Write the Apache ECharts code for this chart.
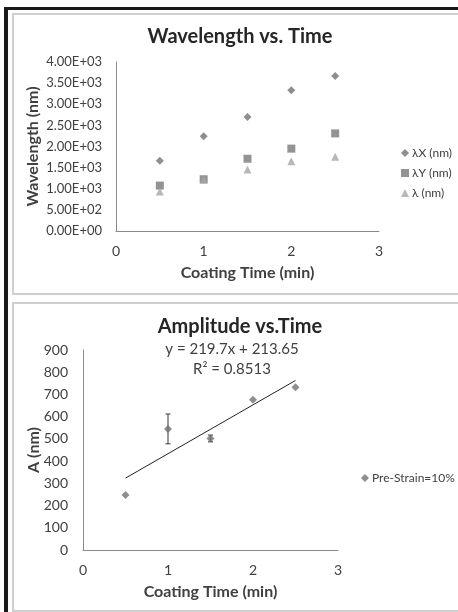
<!DOCTYPE html>
<html>
<head>
<meta charset="utf-8">
<script src="https://cdn.jsdelivr.net/npm/echarts@6/dist/echarts.min.js"></script>
<style>
  html, body { margin: 0; padding: 0; background: #fff; }
  #wrap { position: relative; width: 458px; height: 612px; overflow: hidden; }
  .bar { position: absolute; background: #1a1a1a; }
  .panel { position: absolute; border: 2px solid #cfcfcf; background: #fff; }
  #chart { position: absolute; left: 0; top: 0; width: 458px; height: 612px; }
</style>
</head>
<body>
<div id="wrap">
  <div class="bar" style="left:4px;top:7px;width:460px;height:3px;"></div>
  <div class="bar" style="left:4px;top:7px;width:4px;height:610px;"></div>
  <div class="panel" style="left:12px;top:13px;width:470px;height:278px;"></div>
  <div class="panel" style="left:12px;top:302px;width:470px;height:306px;"></div>
  <div id="chart"></div>
</div>
<script>
// --- top chart: Wavelength vs. Time ---
var timeMin = [0.5, 1, 1.5, 2, 2.5];
var lambdaX = [1660, 2240, 2700, 3330, 3670];
var lambdaY = [1075, 1225, 1710, 1950, 2310];
var lambdaA = [935, 1215, 1455, 1650, 1760];

// --- bottom chart: Amplitude vs.Time ---
var amplitude = [248, 545, 502, 676, 732];
var ampErr = [0, 67, 15, 0, 0];
var trendX = [0.5, 2.5];
var trendY = [323.5, 762.9];
var trendEq = 'y = 219.7x + 213.65';
var trendR2 = 'R² = 0.8513';

var FONT = 'Lato, "Open Sans", sans-serif';

function sci(v) {
    if (v === 0) return '0.00E+00';
    var e = Math.floor(Math.log10(v) + 1e-9);
    var m = (v / Math.pow(10, e)).toFixed(2);
    return m + 'E+' + (e < 10 ? '0' : '') + e;
}

function zip(xs, ys) {
    return xs.map(function(x, i) { return [x, ys[i]]; });
}

var axisLine = { show: true, lineStyle: { color: '#8a8a8a', width: 1 } };
var tickLabel = { color: '#404040', fontSize: 14, fontFamily: FONT };
var nameStyle = { color: '#404040', fontSize: 16, fontWeight: 'bold', fontFamily: FONT };
var legendText = { color: '#404040', fontSize: 12, fontFamily: FONT, padding: [0, 0, 0, -2] };

var chart = echarts.init(document.getElementById('chart'));
chart.setOption({
    animation: false,
    textStyle: { fontFamily: FONT },
    title: [
        { text: 'Wavelength vs. Time', left: 235, top: 22, textAlign: 'center',
          textStyle: { color: '#262626', fontSize: 20, fontWeight: 'bold', fontFamily: FONT } },
        { text: 'Amplitude vs.Time', left: 235, top: 312, textAlign: 'center',
          textStyle: { color: '#262626', fontSize: 20, fontWeight: 'bold', fontFamily: FONT } }
    ],
    graphic: [
        { type: 'text', style: { text: trendEq, x: 232, y: 349, textAlign: 'center', textVerticalAlign: 'middle', fill: '#404040', font: '15px ' + FONT } },
        { type: 'text', style: { text: trendR2, x: 232, y: 369, textAlign: 'center', textVerticalAlign: 'middle', fill: '#404040', font: '15px ' + FONT } }
    ],
    legend: [
        { orient: 'vertical', left: 396, top: 142, itemWidth: 8, itemHeight: 8, itemGap: 8,
          textStyle: legendText,
          data: [
              { name: 'λX (nm)', icon: 'diamond' },
              { name: 'λY (nm)', icon: 'rect' },
              { name: 'λ (nm)', icon: 'triangle' }
          ] },
        { orient: 'vertical', left: 356, top: 467, itemWidth: 8, itemHeight: 8,
          textStyle: legendText,
          data: [{ name: 'Pre-Strain=10%', icon: 'diamond' }] }
    ],
    grid: [
        { left: 116, top: 62, width: 263, height: 169 },
        { left: 83, top: 350, width: 255, height: 200 }
    ],
    xAxis: [
        { gridIndex: 0, type: 'value', min: 0, max: 3, interval: 1,
          axisLine: axisLine, axisTick: { show: false }, splitLine: { show: false },
          axisLabel: Object.assign({ margin: 13 }, tickLabel),
          name: 'Coating Time (min)', nameLocation: 'middle', nameGap: 34, nameTextStyle: nameStyle,
          nameMoveOverlap: false },
        { gridIndex: 1, type: 'value', min: 0, max: 3, interval: 1,
          axisLine: axisLine, axisTick: { show: false }, splitLine: { show: false },
          axisLabel: Object.assign({ margin: 13 }, tickLabel),
          name: 'Coating Time (min)', nameLocation: 'middle', nameGap: 34, nameTextStyle: nameStyle,
          nameMoveOverlap: false }
    ],
    yAxis: [
        { gridIndex: 0, type: 'value', min: 0, max: 4000, interval: 500,
          axisLine: axisLine, axisTick: { show: false }, splitLine: { show: false },
          axisLabel: Object.assign({}, tickLabel, { margin: 14, formatter: sci, fontSize: 13 }),
          name: 'Wavelength (nm)', nameLocation: 'middle', nameGap: 75, nameTextStyle: nameStyle,
          nameMoveOverlap: false },
        { gridIndex: 1, type: 'value', min: 0, max: 900, interval: 100,
          axisLine: axisLine, axisTick: { show: false }, splitLine: { show: false },
          axisLabel: Object.assign({ margin: 15 }, tickLabel),
          name: 'A (nm)', nameLocation: 'middle', nameGap: 41, nameTextStyle: nameStyle,
          nameMoveOverlap: false }
    ],
    series: [
        { name: 'λX (nm)', type: 'scatter', xAxisIndex: 0, yAxisIndex: 0,
          symbol: 'diamond', symbolSize: 8, itemStyle: { color: '#727272' },
          data: zip(timeMin, lambdaX) },
        { name: 'λY (nm)', type: 'scatter', xAxisIndex: 0, yAxisIndex: 0,
          symbol: 'rect', symbolSize: 8, itemStyle: { color: '#787878' },
          data: zip(timeMin, lambdaY) },
        { name: 'λ (nm)', type: 'scatter', xAxisIndex: 0, yAxisIndex: 0,
          symbol: 'triangle', symbolSize: 8, itemStyle: { color: '#a6a6a6' },
          data: zip(timeMin, lambdaA) },
        { name: 'trend', type: 'line', xAxisIndex: 1, yAxisIndex: 1,
          showSymbol: false, silent: true, lineStyle: { color: '#222', width: 1 },
          data: zip(trendX, trendY) },
        { name: 'errors', type: 'custom', xAxisIndex: 1, yAxisIndex: 1,
          encode: { x: 0, y: 1 },
          data: timeMin.map(function(x, i) { return [x, amplitude[i], ampErr[i]]; }),
          renderItem: function(params, api) {
              var x = api.value(0), y = api.value(1), e = api.value(2);
              if (!e) return null;
              var t = api.coord([x, y + e]), b = api.coord([x, y - e]);
              var w = 2.5, st = { stroke: '#555', lineWidth: 1.2 };
              return { type: 'group', children: [
                  { type: 'line', shape: { x1: t[0], y1: t[1], x2: b[0], y2: b[1] }, style: st },
                  { type: 'line', shape: { x1: t[0] - w, y1: t[1], x2: t[0] + w, y2: t[1] }, style: st },
                  { type: 'line', shape: { x1: b[0] - w, y1: b[1], x2: b[0] + w, y2: b[1] }, style: st }
              ] };
          } },
        { name: 'Pre-Strain=10%', type: 'scatter', xAxisIndex: 1, yAxisIndex: 1,
          symbol: 'diamond', symbolSize: 8, itemStyle: { color: '#727272' },
          data: zip(timeMin, amplitude) }
    ]
});
</script>
</body>
</html>
